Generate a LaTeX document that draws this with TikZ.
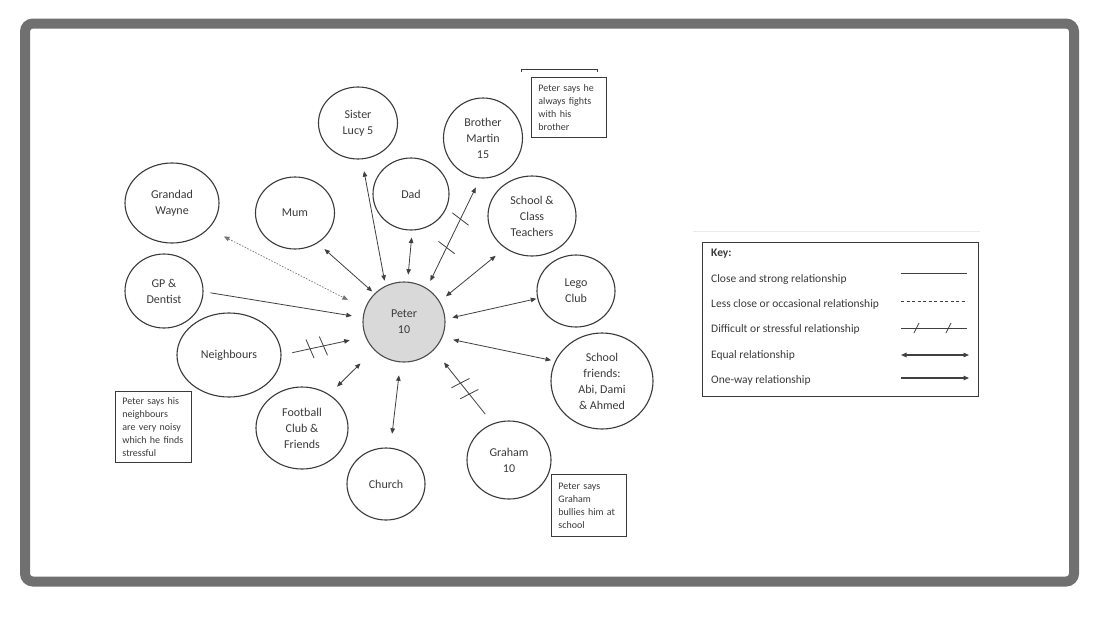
\documentclass[tikz,border=0pt]{standalone}
\usepackage{fontspec}
\setmainfont{Carlito}
\usetikzlibrary{shapes.geometric,arrows.meta,decorations.markings}
\definecolor{frame}{HTML}{707070}
\definecolor{ink}{HTML}{3A3A3A}
\definecolor{wire}{HTML}{404040}
\definecolor{peterfill}{HTML}{D9D9D9}
\newcommand{\bubblefont}{\fontsize{12}{16}\selectfont}
\newcommand{\notefont}{\fontsize{10}{13}\selectfont}
\newcommand{\keyfont}{\fontsize{11.5}{14}\selectfont}
\begin{document}
\begin{tikzpicture}[x=1pt,y=-1pt,
  >={Triangle[length=5.5pt,width=4.5pt]},
  bubble/.style={ellipse, draw=ink, line width=1.1pt, inner sep=0pt, align=center, font=\bubblefont, text=ink},
  note/.style={draw=ink, line width=0.9pt, anchor=north west, inner xsep=7pt, inner ysep=0pt, align=left, font=\notefont, text=ink},
  conn/.style={draw=wire, line width=0.8pt},
  faint/.style={draw=black!55, line width=0.7pt, dash pattern=on 1.5pt off 1.5pt},
  keytext/.style={font=\keyfont, anchor=west, inner sep=0pt, text=ink},
  slashes/.style n args={3}{postaction={decorate}, decoration={markings,
    mark=at position #1 with {\draw[wire,-,solid,line width=0.8pt,shorten <=0pt,shorten >=0pt] ({-2pt*(#3)},-10pt) -- ({2pt*(#3)},10pt);},
    mark=at position #2 with {\draw[wire,-,solid,line width=0.8pt,shorten <=0pt,shorten >=0pt] ({-2pt*(#3)},-10pt) -- ({2pt*(#3)},10pt);}}}
]
\useasboundingbox (0,0) rectangle (1100,619);
\fill[white] (0,0) rectangle (1100,619);
\draw[frame, line width=10pt, rounded corners=8pt] (25,23.5) rectangle (1074,581.5);

% people and groups
\node[bubble, fill=peterfill, draw=black!70, minimum width=82pt, minimum height=80pt] (peter) at (404,322) {Peter\\10};
\node[bubble, minimum width=79pt, minimum height=72pt] (sister) at (358,123) {Sister\\Lucy 5};
\node[bubble, minimum width=94pt, minimum height=80pt] (grandad) at (172,203) {Grandad\\Wayne};
\node[bubble, minimum width=79pt, minimum height=72pt] (mum) at (295,213) {Mum};
\node[bubble, minimum width=76pt, minimum height=72pt] (dad) at (411,194) {Dad};
\node[bubble, minimum width=78pt, minimum height=74pt] (gp) at (164,291) {GP \&\\Dentist};
\node[bubble, minimum width=79pt, minimum height=80pt] (brother) at (483,138) {Brother\\Martin\\15};
\node[bubble, minimum width=88pt, minimum height=80pt] (teachers) at (532,216) {School \&\\Class\\Teachers};
\node[bubble, minimum width=78pt, minimum height=72pt] (lego) at (576,291) {Lego\\Club};
\node[bubble, minimum width=102pt, minimum height=96pt] (friends) at (602,381) {School\\friends:\\Abi, Dami\\\& Ahmed};
\node[bubble, minimum width=84pt, minimum height=78pt] (graham) at (509,460) {Graham\\10};
\node[bubble, minimum width=104pt, minimum height=84pt] (neighbours) at (229,355) {Neighbours};
\node[bubble, minimum width=92pt, minimum height=82pt] (football) at (302,428) {Football\\Club \&\\Friends};
\node[bubble, minimum width=78pt, minimum height=72pt] (church) at (386,484) {Church};

% notes
\node[note, minimum width=75pt, minimum height=60pt, text width=61pt] (brnote) at (531,77) {Peter says he\\always fights\\with his\\brother};
\node[note, minimum width=76pt, minimum height=71pt, text width=62pt] (nbnote) at (115,391) {Peter says his\\neighbours\\are very noisy\\which he finds\\stressful};
\node[note, minimum width=75pt, minimum height=62pt, text width=61pt] (grnote) at (551,474) {Peter says\\Graham\\bullies him at\\school};
\draw[ink, line width=0.9pt] (521,72) -- (521,69) -- (597,69) -- (597,72);

% connectors
\draw[faint, <->, shorten <=17pt, shorten >=19pt] (grandad.-35) -- (peter.161.6);
\draw[conn, <->, shorten <=9pt, shorten >=3pt] (mum.-53.9) -- (peter.136.8);
\draw[conn, <->, shorten <=12pt, shorten >=5pt] (sister.-84.1) -- (peter.117.7);
\draw[conn, <->, shorten <=7pt, shorten >=7pt] (dad.-88.7) -- (peter.85.1);
\draw[conn, <->, shorten <=10pt, shorten >=8pt, slashes={0.37}{0.63}{1}] (brother.-94.6) -- (peter.56);
\draw[conn, <->, shorten <=12pt, shorten >=8pt] (teachers.230.3) -- (peter.30.8);
\draw[conn, <->, shorten <=1pt, shorten >=7pt] (lego.191.6) -- (peter.4.8);
\draw[conn, <->, shorten <=4pt, shorten >=11pt] (friends.157.2) -- (peter.-22.6);
\draw[conn, ->, shorten <=12pt, shorten >=16pt, slashes={0.40}{0.55}{1}] (graham.114.1) -- (peter.-43.6);
\draw[conn, ->, shorten <=7pt, shorten >=11pt] (gp.-1.2) -- (peter.174.5);
\draw[conn, ->, shorten <=11pt, shorten >=16pt, slashes={0.34}{0.50}{-1}] (neighbours.0.9) -- (peter.201.6);
\draw[conn, <->, shorten <=11pt, shorten >=19pt] (football.51.8) -- (peter.223.6);
\draw[conn, <->, shorten <=14pt, shorten >=13pt] (church.83.2) -- (peter.265.7);

% key
\draw[draw=black!8, line width=0.8pt] (693,231) -- (980,231);
\node[draw=ink, line width=1pt, minimum width=276pt, minimum height=154pt, anchor=north west, inner sep=0pt] (key) at (702,242) {};
\node[keytext, font=\keyfont\bfseries] (keyhead) at (711,254) {Key:};
\node[keytext] (k1) at (711,279) {Close and strong relationship};
\node[keytext] (k2) at (711,304) {Less close or occasional relationship};
\node[keytext] (k3) at (711,329) {Difficult or stressful relationship};
\node[keytext] (k4) at (711,355) {Equal relationship};
\node[keytext] (k5) at (711,380) {One-way relationship};
\coordinate (s1a) at (901,273); \coordinate (s1b) at (967,273);
\coordinate (s2a) at (901,301); \coordinate (s2b) at (967,301);
\coordinate (s3a) at (901,328); \coordinate (s3b) at (967,328);
\coordinate (s4a) at (901,355); \coordinate (s4b) at (969,355);
\coordinate (s5a) at (901,378); \coordinate (s5b) at (969,378);
\draw[conn] (s1a) -- (s1b);
\draw[conn, dash pattern=on 3pt off 2.5pt] (s2a) -- (s2b);
\draw[conn] (s3a) -- (s3b);
\draw[conn] (914,333) -- (919,323);
\draw[conn] (946,333) -- (951,323);
\draw[conn, line width=1.1pt, <->] (s4a) -- (s4b);
\draw[conn, line width=1.1pt, ->] (s5a) -- (s5b);
\end{tikzpicture}
\end{document}
